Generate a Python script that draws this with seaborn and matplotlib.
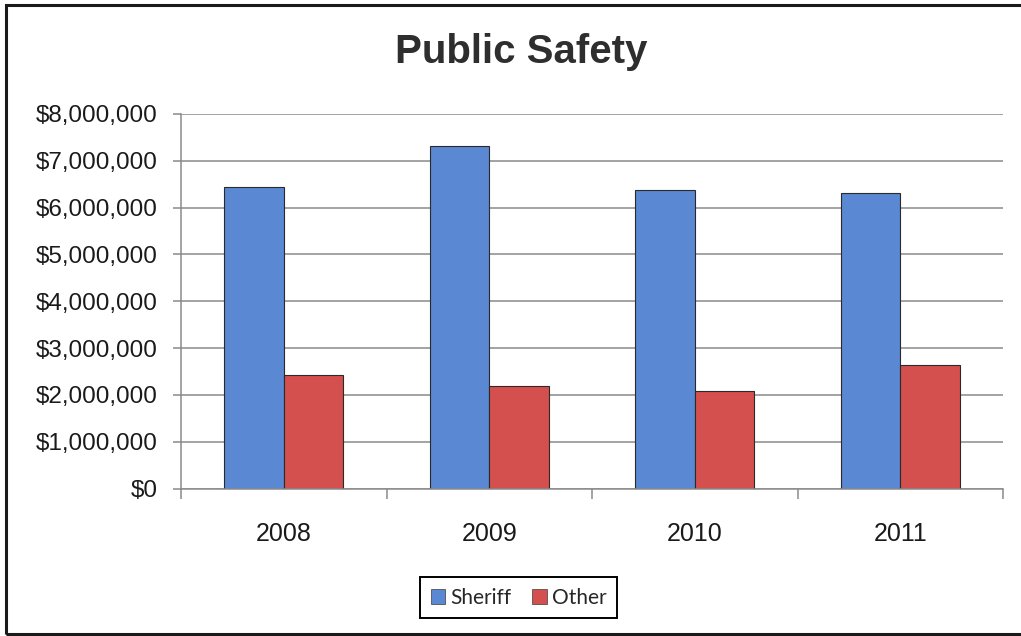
import matplotlib
matplotlib.use("Agg")
import matplotlib.pyplot as plt
import matplotlib.patches as mpatches
from matplotlib.ticker import FuncFormatter, MultipleLocator
import seaborn as sns
import pandas as pd

years = ["2008", "2009", "2010", "2011"]
sheriff = [6440000, 7310000, 6380000, 6320000]
other = [2430000, 2180000, 2080000, 2630000]
series = ["Sheriff", "Other"]
colors = {"Sheriff": "#5A88D2", "Other": "#D4504E"}

df = pd.DataFrame({
    "Year": years * 2,
    "Value": sheriff + other,
    "Series": ["Sheriff"] * len(years) + ["Other"] * len(years),
})

sns.set_style("white")
plt.rcParams["font.family"] = ["Liberation Sans", "DejaVu Sans"]

fig = plt.figure(figsize=(10.21, 6.36), dpi=100)
ax = fig.add_axes([0.1773, 0.2319, 0.8051, 0.5889])

sns.barplot(data=df, x="Year", y="Value", hue="Series", hue_order=series,
            palette=colors, width=0.58, ax=ax, saturation=1,
            edgecolor="#2a2a2a", linewidth=0.8)

ax.set_xlim(-0.5, 3.5)
ax.set_ylim(0, 8000000)
ax.yaxis.set_major_locator(MultipleLocator(1000000))
ax.yaxis.set_major_formatter(FuncFormatter(lambda v, p: f"${v:,.0f}"))
ax.set_axisbelow(True)
ax.grid(axis="y", color="#8a8a8a", linewidth=1.1)
ax.grid(axis="x", visible=False)

for s in ["top", "right"]:
    ax.spines[s].set_visible(False)
for s in ["left", "bottom"]:
    ax.spines[s].set_color("#8a8a8a")
    ax.spines[s].set_linewidth(1.1)

ax.set_xlabel("")
ax.set_ylabel("")
ax.tick_params(axis="y", which="major", direction="out", length=6, width=1.1,
               color="#8a8a8a", pad=11, labelsize=17.5, labelcolor="#1a1a1a", left=True)
ax.set_xticks(range(len(years)))
ax.set_xticklabels(years)
ax.tick_params(axis="x", which="major", length=0, pad=24, labelsize=18,
               labelcolor="#1a1a1a")
# category boundary ticks
ax.set_xticks([-0.5, 0.5, 1.5, 2.5, 3.5], minor=True)
ax.tick_params(axis="x", which="minor", direction="out", length=7, width=1.1,
               color="#8a8a8a", bottom=True)

leg = ax.get_legend()
if leg is not None:
    leg.remove()

handles = [mpatches.Patch(facecolor=colors[s], edgecolor="#3a3a3a", linewidth=0.5, label=s)
           for s in series]
fl = fig.legend(handles=handles, loc="center", bbox_to_anchor=(0.508, 0.06), ncol=2,
                frameon=True, fancybox=False, edgecolor="black", framealpha=1,
                prop={"family": "Lato", "size": 15},
                handlelength=0.7, handleheight=0.7, handletextpad=0.25,
                columnspacing=1.0, borderpad=0.5)
fl.get_frame().set_linewidth(1.4)

fig.suptitle("Public Safety", x=0.51, y=0.948, fontsize=29, fontweight="bold",
             color="#2e2e2e")

border = mpatches.Rectangle((6 / 1021, 2 / 636), 1.05, 1 - 7 / 636,
                            transform=fig.transFigure, fill=False,
                            edgecolor="#1a1a1a", linewidth=2.2, clip_on=False)
fig.add_artist(border)

fig.savefig("out.png", dpi=100)
